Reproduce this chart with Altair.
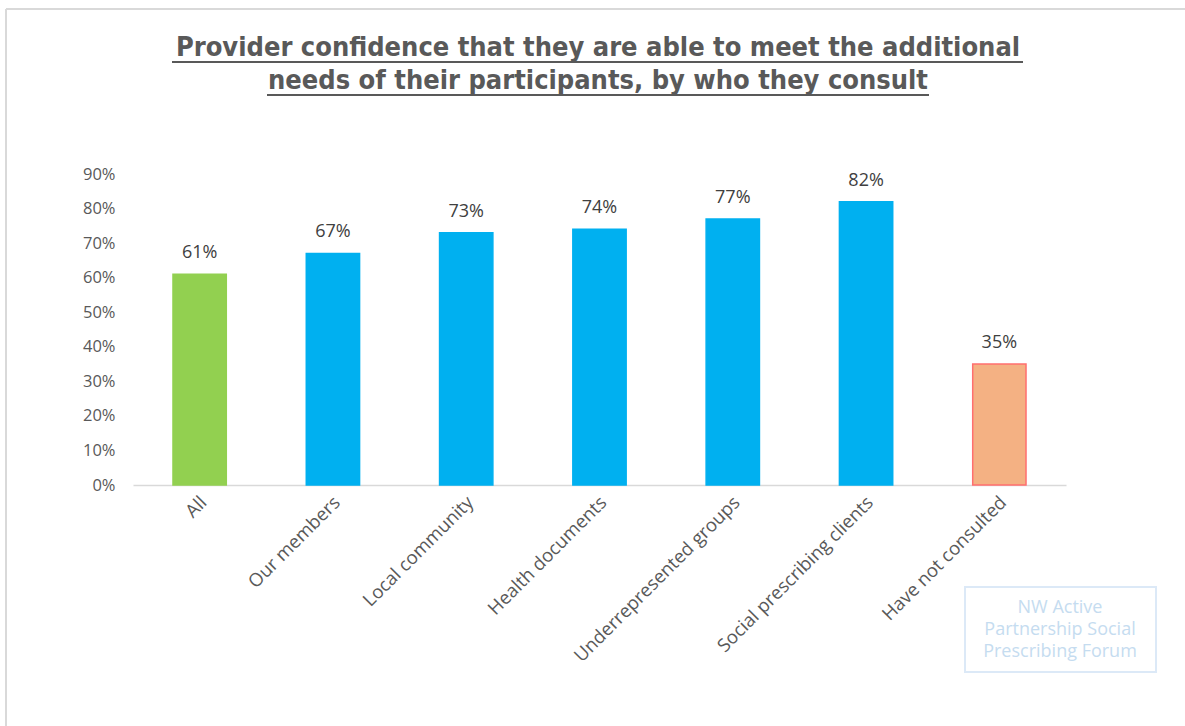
import altair as alt
import pandas as pd

categories = ["All", "Our members", "Local community", "Health documents",
              "Underrepresented groups", "Social prescribing clients", "Have not consulted"]
values = [0.61, 0.67, 0.73, 0.74, 0.77, 0.82, 0.35]
fills = ["#92d050", "#00b0f0", "#00b0f0", "#00b0f0", "#00b0f0", "#00b0f0", "#f4b183"]
strokes = ["#92d050", "#00b0f0", "#00b0f0", "#00b0f0", "#00b0f0", "#00b0f0", "#ff6f6f"]
y_ticks = [0, 0.1, 0.2, 0.3, 0.4, 0.5, 0.6, 0.7, 0.8, 0.9]
title_lines = ["Provider confidence that they are able to meet the additional",
               "needs of their participants, by who they consult"]
watermark_text = "NW Active\nPartnership Social\nPrescribing Forum"

df = pd.DataFrame({"cat": categories, "val": values, "fill": fills, "stroke": strokes})

FONT = "Open Sans"
W, H = 933, 311

x = alt.X("cat:N", sort=categories, title=None,
          scale=alt.Scale(paddingInner=0.6, paddingOuter=0.3),
          axis=alt.Axis(labelAngle=-45, labelAlign="right", labelBaseline="middle",
                        labelFontSize=18.5, labelColor="#595959", labelFont=FONT,
                        labelPadding=14, labelOffset=4, ticks=False, domainColor="#d9d9d9",
                        domainWidth=1.5, labelLimit=400, labelOverlap=False))
y = alt.Y("val:Q", title=None,
          scale=alt.Scale(domain=[0, 0.9], nice=False),
          axis=alt.Axis(values=y_ticks, format=".0%", grid=False, domain=False,
                        ticks=False, labelFontSize=16.5, labelColor="#595959",
                        labelFont=FONT, labelPadding=18, labelOverlap=False))

bars = alt.Chart(df).mark_bar(strokeWidth=1.5).encode(
    x=x, y=y,
    fill=alt.Fill("fill:N", scale=None),
    stroke=alt.Stroke("stroke:N", scale=None),
)
labels = alt.Chart(df).mark_text(baseline="bottom", dy=-12, fontSize=18,
                                 color="#404040", font=FONT).encode(
    x=x, y=y, text=alt.Text("val:Q", format=".0%"))

TFONT = "DejaVu Sans Condensed"
title1 = alt.Chart(pd.DataFrame({"t": [title_lines[0]]})).mark_text(
    font=TFONT, fontSize=27, fontWeight="bold", color="#595959",
    baseline="alphabetic").encode(x=alt.value(465), y=alt.value(-118), text="t:N")
title2 = alt.Chart(pd.DataFrame({"t": [title_lines[1]]})).mark_text(
    font=TFONT, fontSize=27, fontWeight="bold", color="#595959",
    baseline="alphabetic").encode(x=alt.value(465), y=alt.value(-85), text="t:N")
ul1 = alt.Chart(pd.DataFrame({"a": [0]})).mark_rule(color="#595959", strokeWidth=2).encode(
    x=alt.value(39), x2=alt.value(890), y=alt.value(-112))
ul2 = alt.Chart(pd.DataFrame({"a": [0]})).mark_rule(color="#595959", strokeWidth=2).encode(
    x=alt.value(134), x2=alt.value(796), y=alt.value(-79))

wm_box = alt.Chart(pd.DataFrame({"a": [0]})).mark_rect(
    fill="white", stroke="#dce9f7", strokeWidth=2).encode(
    x=alt.value(832), x2=alt.value(1023), y=alt.value(413), y2=alt.value(498))
wm_text = alt.Chart(pd.DataFrame({"t": [watermark_text]})).mark_text(
    fontSize=18, color="#c5dcf0", font=FONT, baseline="middle",
    lineBreak="\n", lineHeight=22).encode(
    x=alt.value(927), y=alt.value(434), text="t:N")

border_top = alt.Chart(pd.DataFrame({"a": [0]})).mark_rule(color="#d9d9d9", strokeWidth=2).encode(
    x=alt.value(-127), x2=alt.value(1060), y=alt.value(-165))
border_left = alt.Chart(pd.DataFrame({"a": [0]})).mark_rule(color="#d9d9d9", strokeWidth=2).encode(
    x=alt.value(-127), y=alt.value(-165), y2=alt.value(560))

chart = alt.layer(bars, labels, border_top, border_left, title1, title2, ul1, ul2,
                  wm_box, wm_text).properties(
    width=W, height=H,
    background="white",
    autosize=alt.AutoSizeParams(type="none"),
    padding={"left": 133, "top": 174, "right": 119, "bottom": 241},
).configure_view(strokeWidth=0, stroke="transparent")

chart.save("out.html", embed_options={"renderer": "svg", "actions": False})
